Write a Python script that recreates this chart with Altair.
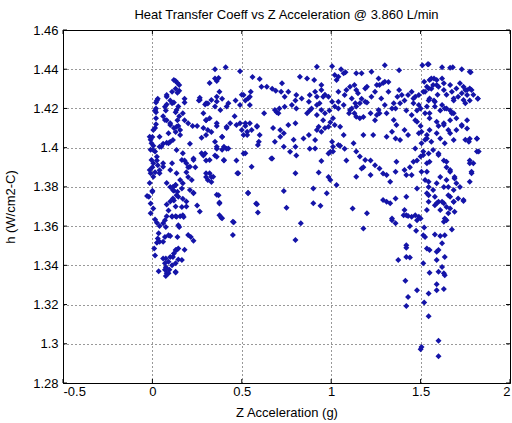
import altair as alt
import pandas as pd

TITLE = "Heat Transfer Coeff vs Z Acceleration @ 3.860 L/min"
X_TITLE = "Z Acceleration (g)"
Y_TITLE = "h (W/cm2-C)"
x_ticks = [-0.5, 0, 0.5, 1, 1.5, 2]
y_ticks = [1.28, 1.30, 1.32, 1.34, 1.36, 1.38, 1.40, 1.42, 1.44, 1.46]

# (Z acceleration g, h W/cm2-C)
pts_left = [
    (0.13, 1.434), (0.14, 1.433), (0.15, 1.432), (0.13, 1.430), (0.15, 1.429), (0.14, 1.428),
    (0.03, 1.425), (0.02, 1.423), (0.02, 1.420), (0.02, 1.418), (0.02, 1.415), (0.02, 1.412), (0.015, 1.410),
    (0.08, 1.426), (0.10, 1.424), (0.08, 1.422), (0.12, 1.423), (0.18, 1.425), (0.18, 1.423),
    (0.145, 1.421), (0.13, 1.418), (0.15, 1.416), (0.14, 1.414),
    (0.075, 1.419), (0.06, 1.416), (0.08, 1.414), (0.10, 1.4115), (0.12, 1.410), (0.145, 1.411), (0.13, 1.408), (0.155, 1.4065),
    (0.18, 1.414), (0.20, 1.4125), (0.225, 1.411), (0.25, 1.411),
    (0.00, 1.4055), (-0.01, 1.404), (0.005, 1.401), (-0.01, 1.399), (0.015, 1.398), (0.04, 1.4005), (0.06, 1.402), (0.08, 1.4025), (0.10, 1.403),
    (0.025, 1.3935), (0.005, 1.392), (0.00, 1.390), (0.015, 1.3875), (0.04, 1.3885), (0.06, 1.392), (0.03, 1.391),
    (-0.01, 1.387), (-0.015, 1.382), (0.00, 1.378), (-0.02, 1.375), (-0.01, 1.3715), (0.005, 1.369), (-0.01, 1.3665),
    (0.08, 1.382), (0.10, 1.380), (0.13, 1.381), (0.12, 1.378), (0.14, 1.3775), (0.145, 1.375), (0.12, 1.373), (0.10, 1.3725),
    (0.08, 1.371), (0.09, 1.368), (0.13, 1.370), (0.17, 1.374), (0.19, 1.3725), (0.19, 1.370),
    (0.18, 1.3935), (0.19, 1.392), (0.20, 1.390), (0.19, 1.3875), (0.20, 1.385), (0.22, 1.3835), (0.23, 1.377), (0.24, 1.390),
    (0.23, 1.3945), (0.21, 1.402), (0.265, 1.4255), (0.26, 1.424), (0.265, 1.4243),
    (0.12, 1.4345), (0.11, 1.4285), (0.08, 1.4268), (0.025, 1.424), (0.015, 1.419), (0.005, 1.409), (-0.015, 1.4056),
    (-0.005, 1.4022), (0.005, 1.3988), (-0.005, 1.3937), (-0.015, 1.3886), (0.005, 1.3852), (0.07, 1.4209), (0.11, 1.4226),
    (0.135, 1.4192), (0.17, 1.4175), (0.07, 1.4141), (0.10, 1.4124), (0.135, 1.4107), (0.155, 1.409), (0.09, 1.4073),
    (0.04, 1.4056), (0.05, 1.4005), (0.09, 1.4022), (0.115, 1.4039), (0.135, 1.3988), (0.17, 1.3971), (0.23, 1.3937),
    (0.21, 1.3903), (0.165, 1.3937), (0.11, 1.392), (0.10, 1.3886), (0.135, 1.3869), (0.155, 1.3835), (0.17, 1.3818),
    (0.115, 1.380), (0.04, 1.3869), (0.06, 1.3903), (0.025, 1.3954),
    (0.015, 1.3634), (0.025, 1.3617), (0.04, 1.360), (0.06, 1.3614), (0.075, 1.3596), (0.07, 1.363), (0.08, 1.365),
    (0.11, 1.365), (0.13, 1.365), (0.155, 1.365), (0.175, 1.3647), (0.15, 1.3596),
    (0.035, 1.3563), (0.03, 1.3537), (0.025, 1.3515), (0.04, 1.352), (0.07, 1.3545), (0.10, 1.355), (0.14, 1.3545),
    (0.20, 1.3555), (0.215, 1.3545), (0.23, 1.3525),
    (0.18, 1.348), (0.135, 1.3478), (0.12, 1.346), (0.10, 1.3443), (0.075, 1.3435), (0.09, 1.3418), (0.13, 1.341),
    (0.145, 1.343), (0.165, 1.3427),
    (0.035, 1.337), (0.075, 1.339), (0.07, 1.3378), (0.08, 1.336), (0.075, 1.3345), (0.095, 1.3378), (0.13, 1.3364),
    (0.015, 1.345), (0.01, 1.3486), (0.06, 1.3435), (0.25, 1.3705), (0.265, 1.3675),
    (-0.03, 1.3753), (0.00, 1.3775), (0.115, 1.3741), (0.135, 1.3758), (0.115, 1.3784), (0.13, 1.381), (0.165, 1.3792),
    (0.21, 1.3784), (0.23, 1.3767), (0.165, 1.3698), (0.17, 1.3656), (0.135, 1.3648), (0.11, 1.3648), (0.145, 1.3605),
    (0.06, 1.352), (0.09, 1.3554), (0.13, 1.3478), (0.145, 1.3486), (0.115, 1.3443), (0.07, 1.341), (0.11, 1.3401),
    (0.08, 1.3384), (0.09, 1.3359), (0.13, 1.3367),
]

pts_mid = [
    (0.35, 1.440), (0.41, 1.441), (0.49, 1.439), (0.56, 1.436), (0.60, 1.435), (0.61, 1.431), (0.64, 1.431), (0.67, 1.430), (0.69, 1.429),
    (0.285, 1.396), (0.295, 1.397), (0.30, 1.3935), (0.30, 1.385), (0.32, 1.387), (0.33, 1.385), (0.31, 1.3835), (0.33, 1.3825),
    (0.36, 1.376), (0.375, 1.3715),
    (0.295, 1.422), (0.31, 1.4225), (0.32, 1.433), (0.36, 1.434), (0.37, 1.4355), (0.375, 1.4285), (0.36, 1.4235), (0.35, 1.421),
    (0.39, 1.425), (0.415, 1.421), (0.465, 1.424), (0.50, 1.427), (0.52, 1.424), (0.545, 1.426), (0.55, 1.4285),
    (0.30, 1.414), (0.32, 1.415), (0.31, 1.409), (0.285, 1.410), (0.30, 1.4065), (0.275, 1.405), (0.33, 1.408), (0.36, 1.411),
    (0.39, 1.4055), (0.415, 1.410), (0.435, 1.4125), (0.46, 1.416), (0.49, 1.4125), (0.50, 1.409), (0.52, 1.411),
    (0.35, 1.403), (0.36, 1.3995), (0.39, 1.399), (0.415, 1.3995), (0.40, 1.3935), (0.35, 1.396), (0.47, 1.3935), (0.48, 1.387),
    (0.51, 1.397), (0.53, 1.4065), (0.555, 1.409), (0.585, 1.411), (0.60, 1.4065), (0.595, 1.403), (0.625, 1.4175),
    (0.67, 1.3945), (0.675, 1.410), (0.685, 1.403), (0.695, 1.418), (0.71, 1.420),
    (0.58, 1.3715), (0.59, 1.367), (0.535, 1.377), (0.375, 1.3655), (0.375, 1.372), (0.39, 1.364), (0.455, 1.362), (0.45, 1.3555),
    (0.30, 1.4226), (0.33, 1.4243), (0.36, 1.426), (0.35, 1.4353), (0.38, 1.4192), (0.285, 1.4175), (0.30, 1.4141),
    (0.36, 1.4124), (0.39, 1.4056), (0.36, 1.4005), (0.40, 1.4005), (0.36, 1.3954), (0.34, 1.3852), (0.30, 1.3869),
    (0.275, 1.3971), (0.32, 1.3937), (0.40, 1.3937), (0.37, 1.3758), (0.385, 1.3642),
    (0.725, 1.4328), (0.76, 1.4285), (0.74, 1.426), (0.805, 1.4268), (0.825, 1.4362), (0.865, 1.4353), (0.905, 1.4345),
    (0.835, 1.4251), (0.88, 1.4268), (0.875, 1.4234), (0.945, 1.432), (0.945, 1.4294), (0.955, 1.426), (0.92, 1.4413),
    (0.425, 1.4226), (0.51, 1.4268), (0.535, 1.4251), (0.49, 1.4217), (0.545, 1.4217), (0.685, 1.4192), (0.705, 1.4175),
    (0.74, 1.4209), (0.78, 1.4217), (0.805, 1.42), (0.865, 1.4175), (0.89, 1.42), (0.92, 1.4217), (0.945, 1.4192), (0.965, 1.4175),
    (0.415, 1.4107), (0.47, 1.4115), (0.52, 1.4124), (0.545, 1.4124), (0.53, 1.4081), (0.51, 1.4064), (0.585, 1.4107),
    (0.76, 1.4115), (0.80, 1.4124), (0.735, 1.4073), (0.715, 1.4056), (0.875, 1.4064), (0.91, 1.4039), (0.945, 1.4081),
    (0.93, 1.4107), (0.845, 1.4047), (0.59, 1.4013),
    (0.425, 1.3996), (0.52, 1.3971), (0.555, 1.3903), (0.665, 1.3945), (0.735, 1.4005), (0.77, 1.3979), (0.80, 1.4005),
    (0.91, 1.3996), (0.945, 1.3932), (0.80, 1.3869), (0.93, 1.3874), (0.475, 1.3869),
    (0.535, 1.3767), (0.735, 1.3779), (0.90, 1.3792), (0.585, 1.3711), (0.75, 1.3693), (0.90, 1.3716), (0.94, 1.3704),
    (0.45, 1.3622), (0.83, 1.3614), (0.80, 1.3529),
    (0.72, 1.4285), (0.80, 1.424), (0.91, 1.4285), (0.92, 1.426), (0.965, 1.427), (0.935, 1.4226), (0.88, 1.419),
    (0.92, 1.4166), (0.955, 1.414), (0.92, 1.409), (0.965, 1.410), (0.715, 1.409), (0.805, 1.396), (0.79, 1.404),
    (0.88, 1.3995), (0.985, 1.397),
    (1.005, 1.4415), (1.055, 1.44), (1.08, 1.4385), (1.07, 1.438), (1.02, 1.437), (1.03, 1.4345), (1.14, 1.438), (1.17, 1.438),
    (1.01, 1.415), (0.99, 1.419), (1.02, 1.421), (1.04, 1.4234), (1.04, 1.4285), (1.085, 1.4294), (1.105, 1.431), (1.13, 1.432),
    (1.14, 1.4294), (1.17, 1.425), (1.16, 1.4226), (1.14, 1.421), (1.115, 1.420), (1.10, 1.4175), (1.13, 1.4175), (1.18, 1.4156),
    (1.16, 1.415), (1.20, 1.423), (1.225, 1.426), (1.245, 1.4285), (1.27, 1.432), (1.29, 1.433), (1.20, 1.431), (1.255, 1.432),
    (1.22, 1.4175), (1.27, 1.4175), (1.245, 1.414),
    (0.995, 1.413), (1.01, 1.398), (1.01, 1.4005), (1.05, 1.401), (1.075, 1.3995), (1.085, 1.3935), (1.125, 1.4022), (1.14, 1.398),
    (1.16, 1.3955), (1.18, 1.390), (1.22, 1.3935), (1.245, 1.391), (1.27, 1.3894), (1.29, 1.3868),
    (0.985, 1.385), (0.975, 1.3767), (1.12, 1.369), (1.20, 1.3665), (1.29, 1.3733),
    (1.04, 1.4362), (1.225, 1.4387), (1.265, 1.4353), (1.19, 1.4302), (1.15, 1.4277), (1.075, 1.4268), (1.115, 1.4251),
    (1.135, 1.4226), (1.19, 1.4234), (1.28, 1.4251), (1.265, 1.4192), (1.255, 1.4166), (1.14, 1.4158), (1.105, 1.4192),
    (1.07, 1.4217), (1.04, 1.42), (1.005, 1.4234), (0.985, 1.426),
    (0.985, 1.4107), (1.02, 1.4115), (1.05, 1.4107), (1.07, 1.4064), (1.005, 1.403), (0.995, 1.3979), (1.04, 1.4013),
    (1.18, 1.4064), (1.235, 1.4064), (1.19, 1.3937), (1.17, 1.3894), (1.22, 1.386), (1.14, 1.3852), (0.995, 1.3835),
    (1.03, 1.381), (1.18, 1.3588),
]

pts_right = [
    (1.30, 1.442), (1.38, 1.4395), (1.32, 1.4335), (1.31, 1.4175), (1.38, 1.4294), (1.37, 1.426), (1.35, 1.4226), (1.36, 1.420),
    (1.385, 1.4226), (1.41, 1.424), (1.45, 1.4285), (1.47, 1.426), (1.46, 1.4226), (1.48, 1.419), (1.45, 1.4166), (1.42, 1.419),
    (1.47, 1.414), (1.49, 1.4073),
    (1.31, 1.386), (1.33, 1.3826), (1.36, 1.3877), (1.365, 1.3928), (1.41, 1.3886), (1.42, 1.386), (1.44, 1.390), (1.48, 1.3935),
    (1.31, 1.3724), (1.33, 1.3716), (1.41, 1.3682), (1.42, 1.3656), (1.45, 1.3648), (1.49, 1.3648),
    (1.30, 1.4336), (1.32, 1.4285), (1.395, 1.4268), (1.43, 1.4268), (1.49, 1.4217), (1.34, 1.42), (1.30, 1.4217),
    (1.31, 1.4056), (1.34, 1.4081), (1.36, 1.4047), (1.385, 1.4039), (1.41, 1.409), (1.43, 1.4064), (1.35, 1.4141), (1.365, 1.4115),
    (1.36, 1.3741), (1.42, 1.375), (1.34, 1.363), (1.42, 1.3503),
    (1.51, 1.442), (1.54, 1.4425), (1.62, 1.441), (1.68, 1.441), (1.73, 1.44), (1.78, 1.4385),
    (1.52, 1.4336), (1.535, 1.431), (1.55, 1.4345), (1.575, 1.4353), (1.59, 1.432), (1.56, 1.430), (1.525, 1.4285), (1.545, 1.424),
    (1.575, 1.424), (1.595, 1.427), (1.63, 1.4294), (1.645, 1.427), (1.675, 1.4285), (1.685, 1.424), (1.71, 1.426), (1.73, 1.4277),
    (1.74, 1.431), (1.76, 1.4294), (1.785, 1.4294), (1.795, 1.427), (1.775, 1.424), (1.75, 1.4226), (1.82, 1.425),
    (1.535, 1.421), (1.55, 1.4175), (1.58, 1.421), (1.61, 1.419), (1.635, 1.420), (1.665, 1.419), (1.685, 1.4175), (1.665, 1.414),
    (1.63, 1.4125), (1.60, 1.411), (1.59, 1.4073), (1.55, 1.409), (1.535, 1.4065), (1.525, 1.404), (1.505, 1.4022), (1.665, 1.4073),
    (1.70, 1.409), (1.73, 1.411), (1.76, 1.414), (1.75, 1.404), (1.775, 1.4045), (1.815, 1.4045), (1.50, 1.411),
    (1.50, 1.3955), (1.515, 1.398), (1.545, 1.397), (1.57, 1.3988), (1.60, 1.397), (1.63, 1.3935), (1.645, 1.390), (1.665, 1.3877),
    (1.69, 1.385), (1.70, 1.3818), (1.685, 1.3784), (1.665, 1.375), (1.685, 1.3724), (1.71, 1.3741), (1.74, 1.3733), (1.72, 1.380),
    (1.795, 1.392), (1.785, 1.3869), (1.815, 1.398), (1.775, 1.3935),
    (1.535, 1.392), (1.535, 1.3877), (1.525, 1.3835), (1.545, 1.380), (1.535, 1.3767), (1.58, 1.375), (1.60, 1.3724),
    (1.59, 1.3818), (1.61, 1.385), (1.645, 1.3835), (1.655, 1.380), (1.535, 1.3682), (1.58, 1.3707), (1.63, 1.3716),
    (1.545, 1.4425), (1.665, 1.4408), (1.775, 1.4387), (1.56, 1.4353), (1.59, 1.4345), (1.62, 1.4353), (1.57, 1.432),
    (1.60, 1.431), (1.63, 1.4328), (1.545, 1.4302), (1.515, 1.4285), (1.49, 1.4268), (1.46, 1.4251), (1.665, 1.432),
    (1.70, 1.4302), (1.72, 1.4328), (1.75, 1.4294), (1.775, 1.4302), (1.76, 1.4268), (1.82, 1.4251), (1.74, 1.4243),
    (1.685, 1.4251), (1.55, 1.4251), (1.58, 1.4234), (1.62, 1.4217), (1.645, 1.420), (1.675, 1.4175), (1.70, 1.415),
    (1.73, 1.4115), (1.76, 1.4098), (1.50, 1.420), (1.525, 1.4175), (1.55, 1.415), (1.59, 1.4132), (1.63, 1.4115),
    (1.655, 1.409), (1.48, 1.4132), (1.505, 1.4081), (1.535, 1.4047), (1.56, 1.403), (1.61, 1.4047), (1.635, 1.4022),
    (1.685, 1.4039), (1.77, 1.403), (1.815, 1.4047), (1.825, 1.398), (1.47, 1.3996), (1.515, 1.3962), (1.55, 1.3928),
    (1.60, 1.3962), (1.645, 1.3928), (1.665, 1.3886), (1.69, 1.3843), (1.775, 1.392), (1.785, 1.3877), (1.775, 1.3826),
    (1.46, 1.3928), (1.505, 1.3877), (1.545, 1.3826), (1.57, 1.3784), (1.63, 1.380), (1.655, 1.3758), (1.685, 1.3724),
    (1.74, 1.3728), (1.62, 1.3724), (1.545, 1.3758), (1.48, 1.3792), (1.45, 1.386),
    (1.34, 1.3639), (1.36, 1.3614), (1.405, 1.3656), (1.43, 1.3651), (1.47, 1.3656), (1.48, 1.363), (1.50, 1.3639),
    (1.44, 1.360), (1.475, 1.3576), (1.52, 1.3593), (1.515, 1.3554), (1.525, 1.3545),
    (1.545, 1.3724), (1.59, 1.3716), (1.61, 1.3682), (1.645, 1.3698), (1.665, 1.369), (1.655, 1.3665), (1.69, 1.3673),
    (1.635, 1.3639), (1.63, 1.3622), (1.645, 1.363), (1.675, 1.3583),
    (1.58, 1.3557), (1.61, 1.3549), (1.635, 1.3554), (1.62, 1.3512), (1.60, 1.3478), (1.59, 1.3469), (1.635, 1.3443),
    (1.535, 1.3486), (1.55, 1.3478), (1.59, 1.3427), (1.62, 1.3392), (1.63, 1.3359), (1.635, 1.335), (1.60, 1.3367),
    (1.55, 1.3362), (1.515, 1.341), (1.42, 1.349), (1.42, 1.3443), (1.44, 1.344), (1.375, 1.3427),
    (1.415, 1.3321), (1.48, 1.3273), (1.43, 1.3239), (1.42, 1.3193), (1.52, 1.3211), (1.545, 1.3257), (1.59, 1.3273),
    (1.63, 1.3279), (1.59, 1.3304), (1.545, 1.3141),
    (1.505, 1.2984), (1.50, 1.2972), (1.60, 1.3015), (1.60, 1.2937),
]

FONT = "Liberation Sans"
W, H = 447, 353

df = pd.DataFrame([{"z": x, "h": y} for x, y in pts_left + pts_mid + pts_right])
xt = pd.DataFrame({"z": x_ticks})
yt = pd.DataFrame({"h": y_ticks})

xscale = alt.Scale(domain=[-0.5, 2], nice=False, zero=False)
yscale = alt.Scale(domain=[1.28, 1.46], nice=False, zero=False)

x_axis = alt.Axis(values=x_ticks, format="~g", labelExpr="replace(datum.label, '\u2212', '-')",
                  title=X_TITLE, grid=True, ticks=False, tickSize=0,
                  domain=False, labelPadding=2, titleX=W / 2, titleY=29, titleBaseline="middle")
y_axis = alt.Axis(values=y_ticks, format="~g", title=Y_TITLE, grid=True, ticks=False, tickSize=0,
                  domain=False, labelPadding=5, titleX=-53, titleY=H / 2, titleBaseline="middle")

X = alt.X("z:Q", scale=xscale, axis=x_axis)
Y = alt.Y("h:Q", scale=yscale, axis=y_axis)

points = alt.Chart(df).mark_point(shape="diamond", filled=True, size=36, color="#1414a8", opacity=1).encode(x=X, y=Y)

tick_style = dict(color="black", strokeWidth=1)
xb = alt.Chart(xt).mark_rule(**tick_style).encode(x=X, y=alt.value(H), y2=alt.value(H - 4))
xtp = alt.Chart(xt).mark_rule(**tick_style).encode(x=X, y=alt.value(0), y2=alt.value(4))
yl = alt.Chart(yt).mark_rule(**tick_style).encode(y=Y, x=alt.value(0), x2=alt.value(4))
yr = alt.Chart(yt).mark_rule(**tick_style).encode(y=Y, x=alt.value(W), x2=alt.value(W - 4))

chart = alt.layer(points, xb, xtp, yl, yr).properties(
    width=W, height=H,
    title=alt.TitleParams(TITLE, fontSize=13, font=FONT, fontWeight="normal", color="black",
                          anchor="middle", frame="group", offset=9, baseline="bottom", dy=20),
    autosize=alt.AutoSizeParams(type="none"),
    padding={"left": 63, "top": 30, "right": 2, "bottom": 40},
).configure_view(
    stroke="black", strokeWidth=1
).configure_axis(
    gridColor="#000000", gridDash=[1, 3], gridWidth=1, gridOpacity=0.8,
    labelFont=FONT, labelFontSize=13, labelColor="black",
    titleFont=FONT, titleFontSize=13, titleFontWeight="normal", titleColor="black",
)

chart.save("out.html", embed_options={"renderer": "svg", "actions": False})
